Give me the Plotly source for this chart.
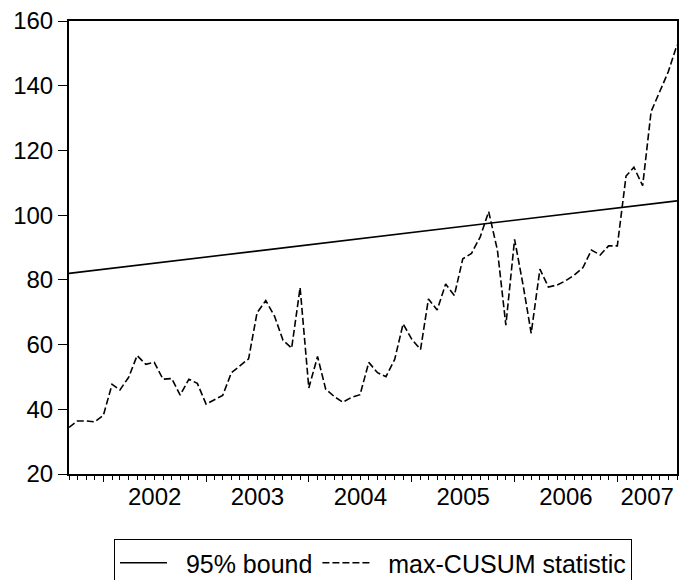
import pandas as pd
import plotly.graph_objects as go

# ---- data (monthly, Sep 2001 - Aug 2007) ----
start_month = "2001-09-01"
n_months = 72
cusum_values = [
    34.4, 36.4, 36.4, 36.1, 38.1, 47.7, 46.0, 49.9, 56.6, 53.9, 54.5, 49.3,
    49.5, 44.4, 49.3, 48.0, 41.6, 43.1, 44.3, 51.3, 53.4, 55.6, 69.8, 73.6,
    68.8, 61.4, 58.9, 77.6, 46.6, 56.3, 46.2, 43.9, 42.2, 43.7, 44.5, 54.5,
    51.3, 50.1, 55.4, 66.4, 61.6, 58.5, 74.1, 70.7, 78.7, 75.2, 86.5, 88.2,
    93.3, 101.1, 89.2, 66.0, 92.5, 78.0, 63.5, 83.3, 77.8, 78.4, 79.7, 81.5,
    83.8, 89.2, 87.7, 90.5, 90.5, 112.1, 114.8, 109.1, 132.0, 138.1, 144.3, 152.6,
]
bound_dates = ["2001-09-01", "2007-08-01"]
bound_values = [82.0, 104.4]
series_names = ["95% bound", "max-CUSUM statistic"]
year_labels = ["2002", "2003", "2004", "2005", "2006", "2007"]
y_ticks = [20, 40, 60, 80, 100, 120, 140, 160]

dates = pd.date_range(start_month, periods=n_months, freq="MS")
first, last = dates[0], dates[-1]

# year-label positions: centre of each year's visible span
label_pos, major_ticks = [], []
for y in year_labels:
    a = max(pd.Timestamp(f"{y}-01-01"), first)
    b = min(pd.Timestamp(f"{int(y)+1}-01-01"), last)
    label_pos.append(a + (b - a) / 2)
    major_ticks.append(pd.Timestamp(f"{y}-01-01"))

FONT = dict(family="Liberation Sans, Arial, sans-serif", size=24, color="black")
LEG_FONT = dict(family="Liberation Sans, Arial, sans-serif", size=25, color="black")
PAD = "\u00a0\u00a0"  # small gap between legend sample and its text

fig = go.Figure()
fig.add_trace(go.Scatter(
    x=bound_dates, y=bound_values, mode="lines", name=PAD + series_names[0],
    line=dict(color="black", width=1.6), xaxis="x2"))
fig.add_trace(go.Scatter(
    x=dates, y=cusum_values, mode="lines", name=PAD + series_names[1],
    line=dict(color="black", width=1.6, dash="7px,3px")))

# the page body has an 8px margin, so the figure is sized/offset to compensate
fig.update_layout(
    width=684, height=572, autosize=False,
    margin=dict(l=61, r=15, t=13, b=106, autoexpand=False),
    paper_bgcolor="white", plot_bgcolor="white",
    font=FONT,
    showlegend=True,
    legend=dict(orientation="h", x=0.5, xanchor="center", y=-0.1435, yanchor="top",
                bordercolor="black", borderwidth=1, font=LEG_FONT,
                itemwidth=47, tracegroupgap=0),
    xaxis=dict(
        type="date", range=[first, last], automargin=False,
        tickmode="array", tickvals=label_pos, ticktext=year_labels,
        ticks="", showgrid=False, zeroline=False, ticklabeloverflow="allow",
        showline=True, linecolor="black", linewidth=2, mirror=True,
        tickfont=FONT,
        minor=dict(tickmode="linear", tick0=start_month, dtick="M1",
                   ticks="outside", ticklen=4, tickwidth=1, tickcolor="black",
                   showgrid=False),
    ),
    xaxis2=dict(
        type="date", overlaying="x", matches="x", anchor="y", side="bottom",
        automargin=False,
        tickmode="array", tickvals=major_ticks, showticklabels=False,
        ticks="outside", ticklen=7, tickwidth=1, tickcolor="black",
        showgrid=False, zeroline=False, showline=False,
    ),
    yaxis=dict(
        range=[20, 160], tickmode="array", tickvals=y_ticks, automargin=False,
        ticks="outside", ticklen=9, tickwidth=1, tickcolor="black",
        showgrid=False, zeroline=False, ticklabeloverflow="allow",
        showline=True, linecolor="black", linewidth=2, mirror=True,
        tickfont=FONT,
    ),
)

fig.write_html("out.html")
